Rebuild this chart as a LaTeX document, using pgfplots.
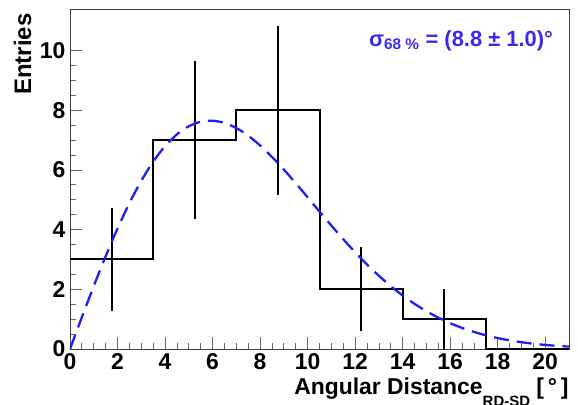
\documentclass[border=0pt]{standalone}
\usepackage{fontspec}
\setmainfont{Liberation Sans}
\usepackage{pgfplots}
\pgfplotsset{compat=1.18}
\definecolor{fitblue}{RGB}{30,30,245}
\definecolor{txtblue}{RGB}{60,40,240}
\begin{document}
\begin{tikzpicture}
\begin{axis}[
    scale only axis,
    width=499bp, height=339bp,
    xmin=0, xmax=21, ymin=0, ymax=11.36,
    xtick={0,2,...,20}, ytick={0,2,...,10},
    minor tick num=3,
    tick align=inside,
    xtick pos=left, ytick pos=left,
    major tick length=12bp, minor tick length=6bp,
    tick style={black!60, line width=0.8pt},
    axis line style={black!75, line width=1pt},
    /pgf/number format/assume math mode=true,
    ticklabel style={font=\fontsize{23}{25}\selectfont\bfseries},
    xticklabel style={yshift=-1bp},
    yticklabel style={xshift=-1bp},
    label style={font=\fontsize{24}{26}\selectfont\bfseries},
    xlabel={\fontsize{23}{25}\selectfont Angular Distance\raisebox{-0.55em}{\fontsize{15}{17}\selectfont RD-SD} [\,°\,]},
    xlabel style={at={(rel axis cs:1,0)}, anchor=north east, yshift=-25bp, xshift=3bp},
    ylabel={Entries},
    ylabel style={at={(rel axis cs:0,1)}, anchor=south east, yshift=35bp},
]
% histogram
\addplot[const plot mark left, black, line width=2bp, mark=none]
    coordinates {(0,3) (3.5,7) (7,8) (10.5,2) (14,1) (17.5,0) (21,0)};
% statistical error bars
\addplot[draw=none, mark=none,
    error bars/.cd, y dir=both, y explicit, error mark=none,
    error bar style={draw=black, line width=2bp}]
    coordinates {
    (1.75,3) +- (0,1.73)
    (5.25,7) +- (0,2.65)
    (8.75,8) +- (0,2.83)
    (12.25,2) +- (0,1.41)
    (15.75,1) +- (0,1.0)
    };
% fit curve
\addplot[fitblue, line width=2.3pt, dash pattern=on 15bp off 8bp, smooth]
    coordinates {
    (0,0) (0.5,1.065) (1,2.108) (1.5,3.105) (2,4.037) (2.5,4.886) (3,5.636)
    (3.5,6.276) (4,6.796) (4.5,7.193) (5,7.465) (5.5,7.615) (6,7.649)
    (6.5,7.575) (7,7.404) (7.5,7.148) (8,6.821) (8.5,6.438) (9,6.012)
    (9.5,5.556) (10,5.084) (10.5,4.607) (11,4.136) (11.5,3.679) (12,3.244)
    (12.5,2.832) (13,2.453) (13.5,2.106) (14,1.793) (14.5,1.513) (15,1.266)
    (15.5,1.051) (16,0.865) (16.5,0.707) (17,0.572) (17.5,0.460) (18,0.366)
    (18.5,0.290) (19,0.227) (19.5,0.177) (20,0.137) (20.5,0.105) (21,0.080)
    };
\node[anchor=north east, text=txtblue, font=\fontsize{22}{24}\selectfont\bfseries]
    at (rel axis cs:0.975,0.95) {σ\textsubscript{68 \%} = (8.8 ± 1.0)°};
\end{axis}
\pgfresetboundingbox
\path ([shift={(-70bp,-56bp)}]current axis.south west) rectangle ([shift={(9bp,10bp)}]current axis.north east);
\end{tikzpicture}
\end{document}
